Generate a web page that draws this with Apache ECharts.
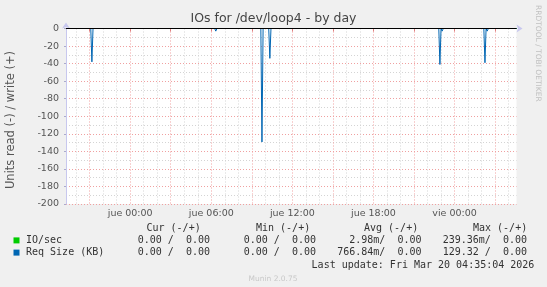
<!DOCTYPE html>
<html><head><meta charset="utf-8">
<script src="https://cdn.jsdelivr.net/npm/echarts@6/dist/echarts.min.js"></script>
<style>html,body{margin:0;padding:0;background:#f0f0f0}#c{width:547px;height:287px}</style>
</head><body><div id="c"></div>
<script>
// ---- data ----
const startTime = '2026-03-18T19:15:00';
const endTime = '2026-03-20T04:35:00';
const xTickTimes = ['2026-03-19T00:00:00','2026-03-19T06:00:00','2026-03-19T12:00:00','2026-03-19T18:00:00','2026-03-20T00:00:00'];
const xTickLabels = ['jue 00:00','jue 06:00','jue 12:00','jue 18:00','vie 00:00'];
const yMin = -200, yMax = 0, yStep = 20;

// Req Size (KB), read side (negative)
const reqTimes = [
  '2026-03-18T19:15:00',
  '2026-03-18T21:05:00','2026-03-18T21:10:00','2026-03-18T21:15:00',
  '2026-03-19T06:15:00','2026-03-19T06:20:00','2026-03-19T06:25:00',
  '2026-03-19T09:40:00','2026-03-19T09:45:00','2026-03-19T09:50:00',
  '2026-03-19T10:15:00','2026-03-19T10:20:00','2026-03-19T10:25:00',
  '2026-03-19T22:50:00','2026-03-19T22:55:00','2026-03-19T23:00:00','2026-03-19T23:05:00','2026-03-19T23:10:00',
  '2026-03-20T02:10:00','2026-03-20T02:15:00','2026-03-20T02:20:00','2026-03-20T02:25:00','2026-03-20T02:30:00',
  '2026-03-20T04:35:00'
];
const reqRead = [
  0,
  0, -38, 0,
  0, -3, 0,
  0, -129.32, 0,
  0, -34, 0,
  0, -41, 0, -3, 0,
  0, -39, 0, -3, 0,
  0
];
// IO/sec read side (tiny values)
const ioTimes = ['2026-03-18T19:15:00','2026-03-19T09:40:00','2026-03-19T09:45:00','2026-03-19T09:50:00','2026-03-20T04:35:00'];
const ioRead = [0, 0, -0.23936, 0, 0];
// write side (+) is zero for both
const writeTimes = [startTime, endTime];
const writeValues = [0, 0];

// legend table
const legendNames = ['IO/sec', 'Req Size (KB)'];
const legendColors = ['#00cc00', '#0066b3'];
const legendCur = ['0.00 /  0.00', '0.00 /  0.00'];
const legendMin = ['0.00 /  0.00', '0.00 /  0.00'];
const legendAvg = ['2.98m/  0.00', '766.84m/  0.00'];
const legendMax = ['239.36m/  0.00', '129.32 /  0.00'];
const legendHeaders = ['Cur (-/+)', 'Min (-/+)', 'Avg (-/+)', 'Max (-/+)'];
const lastUpdate = 'Last update: Fri Mar 20 04:35:04 2026';

// ---- build ----
const t = s => new Date(s).getTime();
const tMin = t(startTime), tMax = t(endTime);
const majorTicks = [];
const minorTicks = [];
for (let v = t('2026-03-18T21:00:00'); v <= tMax; v += 3 * 3600e3) majorTicks.push(v);
for (let v = t('2026-03-18T20:00:00'); v <= tMax; v += 3600e3) {
  if (!majorTicks.includes(v)) minorTicks.push(v);
}
const labelVals = xTickTimes.map(t);
const labelMap = {};
labelVals.forEach((v, i) => labelMap[v] = xTickLabels[i]);

const mono = '10px "DejaVu Sans Mono"';
const txtCol = '#333';
const graphics = [
  {type:'text', x:273.5, y:19, style:{text:'IOs for /dev/loop4 - by day', font:'12.5px "DejaVu Sans"', fill:'#444', textAlign:'center', textVerticalAlign:'middle'}},
  {type:'text', x:11, y:120, rotation:Math.PI/2, style:{text:'Units read (-) / write (+)', font:'11.5px "DejaVu Sans"', fill:'#555', textAlign:'center', textVerticalAlign:'middle'}},
  {type:'text', x:537.5, y:5, rotation:-Math.PI/2, style:{text:'RRDTOOL / TOBI OETIKER', font:'7.5px "DejaVu Sans"', fill:'#c0c0c0', textAlign:'left', textVerticalAlign:'middle'}},
  {type:'text', x:311.6, y:265.5, style:{text:lastUpdate, font:mono, fill:txtCol, textAlign:'left', textVerticalAlign:'middle'}},
  {type:'text', x:273, y:279, style:{text:'Munin 2.0.75', font:'7.5px "DejaVu Sans"', fill:'#c8c8c8', textAlign:'center', textVerticalAlign:'middle'}}
];
const headerX = [146.5, 256, 364, 473];
legendHeaders.forEach((h, i) => graphics.push({type:'text', x:headerX[i], y:228.5, style:{text:h, font:mono, fill:txtCol, textAlign:'left', textVerticalAlign:'middle'}}));
const colRight = [210, 316, 421.5, 527];
const cols = [legendCur, legendMin, legendAvg, legendMax];
const rowY = [240.4, 252.6];
legendNames.forEach((n, r) => {
  graphics.push({type:'rect', shape:{x:13.5, y:rowY[r]-3, width:6, height:6}, style:{fill:legendColors[r]}});
  graphics.push({type:'text', x:26, y:rowY[r], style:{text:n, font:mono, fill:txtCol, textAlign:'left', textVerticalAlign:'middle'}});
  cols.forEach((c, ci) => graphics.push({type:'text', x:colRight[ci], y:rowY[r], style:{text:c[r], font:mono, fill:txtCol, textAlign:'right', textVerticalAlign:'middle'}}));
});

const chart = echarts.init(document.getElementById('c'), null, {renderer:'canvas'});
chart.setOption({
  animation:false,
  backgroundColor:'#f0f0f0',
  grid:{left:66, right:30.5, top:28.5, bottom:83, show:true, backgroundColor:'#ffffff', borderWidth:0, containLabel:false},
  xAxis:[
    {type:'value', min:tMin, max:tMax, position:'bottom',
     axisLine:{show:true, lineStyle:{color:'#c8c8ee', width:1}, symbol:['none','arrow'], symbolSize:[6,6], symbolOffset:[0,6]},
     axisTick:{show:true, customValues:majorTicks, inside:false, length:3, lineStyle:{color:'#e08080'}},
     axisLabel:{show:true, customValues:labelVals, formatter:v => labelMap[v] || '', margin:5, color:'#555', fontFamily:'DejaVu Sans', fontSize:9.5},
     splitLine:{show:true, lineStyle:{color:'#f0a0a0', type:[1,2], width:1}}},
    {type:'value', min:tMin, max:tMax, position:'top',
     axisLine:{show:false}, axisTick:{show:false, customValues:minorTicks}, axisLabel:{show:false},
     splitLine:{show:true, lineStyle:{color:'#d4d4d4', type:[1,2], width:1}}}
  ],
  yAxis:{type:'value', min:yMin, max:yMax, interval:yStep,
    axisLine:{show:true, lineStyle:{color:'#c8c8ee', width:1}, symbol:['none','arrow'], symbolSize:[6,6], symbolOffset:[0,6]},
    axisTick:{show:true, length:2, lineStyle:{color:'#aaaacc'}},
    axisLabel:{margin:7, color:'#555', fontFamily:'DejaVu Sans', fontSize:9.5},
    splitLine:{show:true, lineStyle:{color:'#f0a0a0', type:[1,2], width:1}},
    minorTick:{show:false, splitNumber:2},
    minorSplitLine:{show:true, lineStyle:{color:'#d4d4d4', type:[1,2], width:1}}},
  series:[
    {type:'line', name:'IO/sec write', showSymbol:false, data:writeTimes.map((s,i)=>[t(s), writeValues[i]]), lineStyle:{color:'#00cc00', width:1}, z:2},
    {type:'line', name:'IO/sec', showSymbol:false, data:ioTimes.map((s,i)=>[t(s), ioRead[i]]), lineStyle:{color:'#00cc00', width:1}, z:2},
    {type:'line', name:'Req Size (KB)', showSymbol:false, data:reqTimes.map((s,i)=>[t(s), reqRead[i]]), lineStyle:{color:'#0066b3', width:1}, z:3,
     markLine:{silent:true, symbol:'none', label:{show:false}, lineStyle:{color:'#000', width:1, type:'solid'}, data:[{yAxis:0}]}}
  ],
  graphic:graphics
});
</script></body></html>
